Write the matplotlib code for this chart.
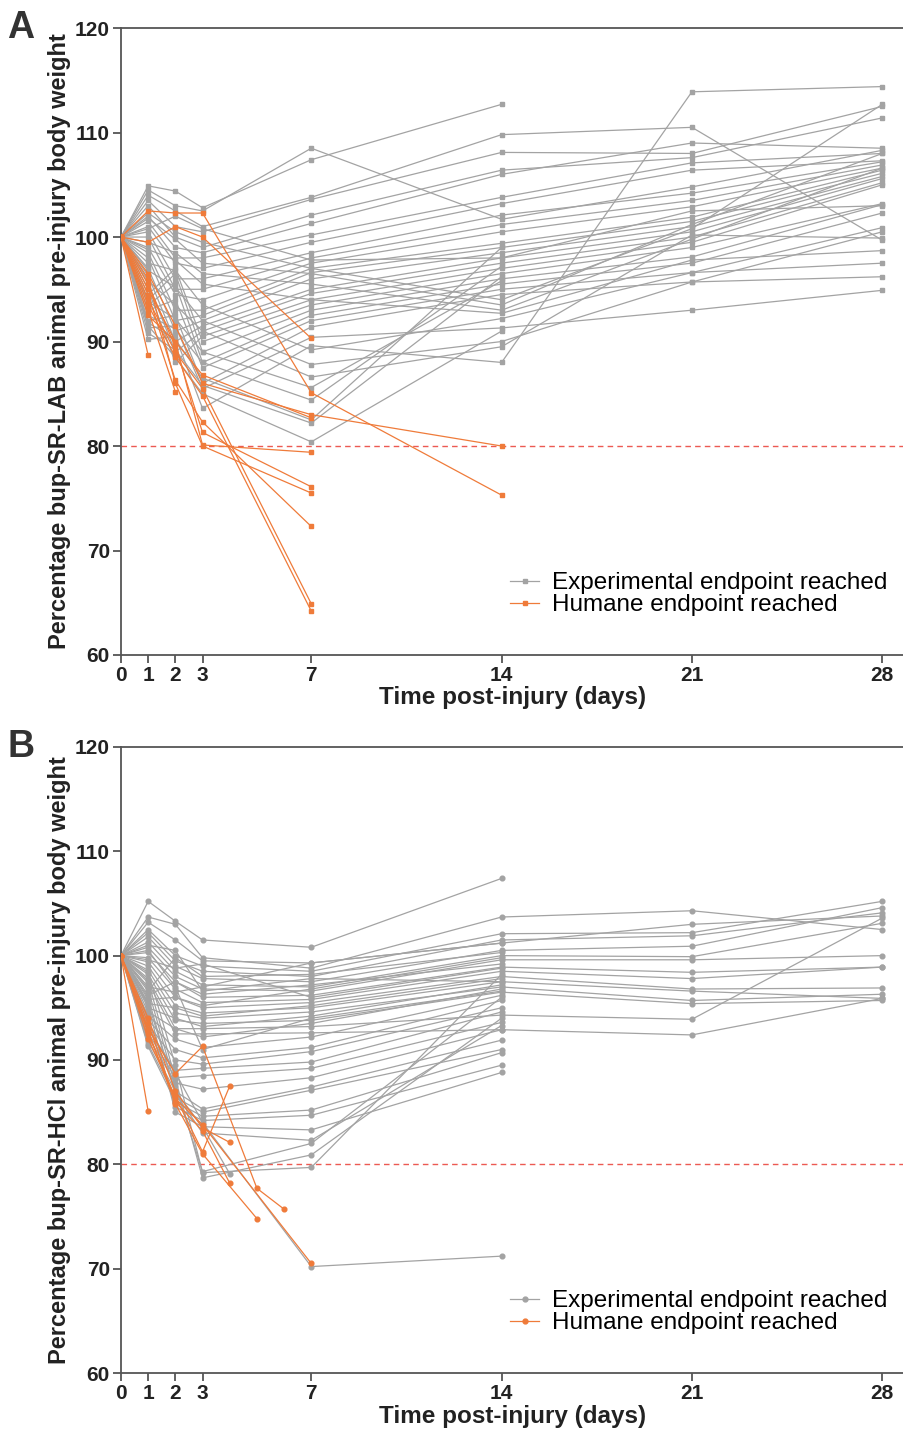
import numpy as np
import matplotlib.pyplot as plt
from matplotlib.lines import Line2D

nan = np.nan
plt.rcParams['font.family'] = ['Liberation Sans', 'DejaVu Sans']

days = [0, 1, 2, 3, 7, 14, 21, 28]
xticks = [0, 1, 2, 3, 7, 14, 21, 28]

# panel A (bup-SR-LAB): values at days 0,1,2,3,7,14,21,28
lab_exp = [
    [100, 104.9, 104.4, 102.8, 107.4, 112.7, nan, nan],
    [100, 104.5, 103.0, 102.5, 108.5, 101.7, 104.8, 108.3],
    [100, 104.0, 102.5, 101.0, 103.8, 109.8, 110.5, 99.7],
    [100, 103.5, 101.0, 100.5, 103.6, 108.1, 108.0, 112.5],
    [100, 103.0, 100.0, 99.0, 102.1, 106.4, 107.6, 111.4],
    [100, 102.0, 99.0, 98.5, 101.3, 106.0, 109.0, 108.5],
    [100, 101.5, 98.0, 98.0, 100.2, 103.8, 107.1, 108.0],
    [100, 101.0, 97.5, 97.0, 99.5, 103.2, 106.4, 107.3],
    [100, 100.5, 96.0, 96.0, 98.5, 102.1, 104.2, 107.2],
    [100, 100.0, 95.0, 95.0, 98.0, 101.2, 103.5, 106.9],
    [100, 99.0, 94.5, 94.0, 97.5, 100.5, 102.9, 106.6],
    [100, 98.5, 93.0, 93.0, 97.0, 99.4, 101.9, 106.4],
    [100, 98.0, 92.0, 92.5, 96.6, 99.0, 101.5, 106.1],
    [100, 97.0, 91.0, 92.0, 96.0, 98.5, 101.0, 105.8],
    [100, 96.3, 90.0, 91.5, 95.0, 98.0, 100.5, 105.6],
    [100, 95.5, 89.0, 91.0, 94.6, 97.5, 100.0, 105.2],
    [100, 95.0, 88.0, 90.5, 94.0, 97.0, 99.5, 105.0],
    [100, 94.5, 97.0, 90.0, 93.5, 96.5, 99.0, 103.2],
    [100, 94.0, 96.5, 89.0, 93.0, 96.0, 98.1, 103.1],
    [100, 93.5, 95.5, 88.0, 92.5, 95.5, 97.5, 102.3],
    [100, 93.0, 94.0, 87.5, 92.0, 95.0, 96.6, 100.9],
    [100, 92.0, 92.5, 86.0, 91.4, 94.5, 95.7, 100.5],
    [100, 91.3, 91.5, 85.5, 90.4, 91.3, 93.0, 94.9],
    [100, 90.2, 90.5, 83.6, 89.6, 88.0, 113.9, 114.4],
    [100, 102.3, 100.5, 99.5, 97.0, 94.0, 100.8, 112.7],
    [100, 101.8, 99.8, 97.5, 96.5, 93.5, 101.2, 108.0],
    [100, 99.5, 98.5, 96.5, 95.5, 93.0, 99.8, 106.6],
    [100, 98.8, 97.8, 95.5, 94.0, 92.7, 97.8, 98.7],
    [100, 97.5, 96.8, 93.5, 89.2, 92.2, 96.6, 97.5],
    [100, 96.8, 95.2, 92.0, 87.8, 90.0, 95.7, 96.2],
    [100, 95.8, 93.5, 91.0, 86.6, 89.5, 100.2, 99.9],
    [100, 100.8, 102.0, 100.8, 97.8, 98.0, 102.5, 103.0],
    [100, 93.8, 92.2, 89.0, 85.6, 95.8, nan, nan],
    [100, 92.5, 91.2, 88.0, 84.4, 97.2, nan, nan],
    [100, 91.8, 90.2, 86.5, 82.5, 99.0, nan, nan],
    [100, 90.8, 89.2, 85.8, 82.2, 96.2, nan, nan],
    [100, 91.5, 88.5, 85.0, 80.4, 91.0, nan, nan],
]
lab_hum = [
    [100, 88.7, nan, nan, nan, nan],
    [100, 93.0, 85.2, nan, nan, nan],
    [100, 102.5, 102.3, 102.3, 85.1, 75.3],
    [100, 99.5, 101.0, 100.0, 90.3, nan],
    [100, 96.5, 91.5, 86.0, 83.0, 80.0],
    [100, 95.0, 90.0, 86.8, 82.7, nan],
    [100, 94.0, 89.0, 85.5, 64.9, nan],
    [100, 93.5, 88.5, 84.8, 64.2, nan],
    [100, 94.5, 86.3, 82.3, 72.3, nan],
    [100, 95.5, 89.5, 81.3, 76.1, nan],
    [100, 96.0, 86.0, 80.0, 75.5, nan],
    [100, 92.5, 90.0, 80.1, 79.4, nan],
]
lab_hum_days = [0, 1, 2, 3, 7, 14]

# panel B (bup-SR-HCl)
hcl_exp = [
    [100, 105.2, 103.3, 101.5, 100.8, 107.4, nan, nan],
    [100, 103.7, 103.0, 99.8, 98.8, 103.7, 104.3, 102.5],
    [100, 103.2, 101.5, 99.5, 99.3, 101.2, 103.0, 103.8],
    [100, 102.5, 100.0, 99.0, 98.5, 102.1, 102.2, 105.2],
    [100, 102.2, 99.5, 98.5, 98.0, 101.5, 101.9, 104.1],
    [100, 101.8, 99.0, 97.8, 97.5, 100.5, 100.9, 104.6],
    [100, 101.3, 98.5, 97.2, 97.0, 100.0, 99.9, 103.1],
    [100, 100.8, 98.0, 96.8, 96.6, 99.6, 99.6, 100.0],
    [100, 100.3, 97.5, 96.0, 96.2, 98.9, 98.4, 98.9],
    [100, 99.8, 96.8, 95.5, 95.8, 98.5, 97.8, 98.9],
    [100, 99.4, 96.0, 95.0, 95.5, 98.0, 96.8, 96.9],
    [100, 99.0, 95.2, 94.5, 95.0, 97.5, 96.6, 95.9],
    [100, 98.6, 94.5, 94.0, 94.6, 97.0, 95.7, 96.3],
    [100, 98.2, 93.8, 93.5, 93.8, 96.5, 95.4, 95.7],
    [100, 97.8, 93.0, 93.0, 93.2, 94.3, 93.9, 103.6],
    [100, 97.4, 92.5, 92.5, 92.6, 92.9, 92.4, 95.9],
    [100, 97.0, 96.5, 97.0, 99.3, 101.2, nan, nan],
    [100, 96.6, 99.8, 98.0, 98.2, 100.3, nan, nan],
    [100, 96.2, 97.5, 96.3, 97.2, 99.2, nan, nan],
    [100, 95.8, 96.0, 95.2, 96.8, 99.8, nan, nan],
    [100, 95.4, 95.0, 94.2, 95.2, 97.8, nan, nan],
    [100, 95.0, 94.0, 93.2, 94.2, 97.2, nan, nan],
    [100, 94.6, 93.0, 92.2, 93.5, 96.8, nan, nan],
    [100, 94.2, 92.0, 91.2, 92.2, 96.2, nan, nan],
    [100, 93.8, 91.0, 90.2, 91.2, 95.7, nan, nan],
    [100, 93.4, 90.0, 89.6, 90.8, 95.0, nan, nan],
    [100, 93.0, 89.0, 89.2, 89.8, 94.6, nan, nan],
    [100, 92.6, 88.3, 88.5, 89.2, 93.6, nan, nan],
    [100, 92.2, 87.8, 87.2, 88.3, 92.9, nan, nan],
    [100, 91.8, 87.0, 85.3, 87.4, 91.9, nan, nan],
    [100, 91.5, 86.4, 85.0, 87.1, 91.0, nan, nan],
    [100, 91.3, 86.0, 84.6, 85.2, 90.7, nan, nan],
    [100, 94.0, 85.5, 84.2, 84.7, 89.5, nan, nan],
    [100, 95.2, 85.0, 83.6, 83.3, 88.8, nan, nan],
    [100, 96.0, 86.8, 83.0, 82.3, 93.3, nan, nan],
    [100, 96.8, 87.5, 79.3, 82.0, 96.0, nan, nan],
    [100, 97.6, 88.2, 78.7, 80.9, 94.0, nan, nan],
    [100, 98.4, 89.5, 79.2, 79.7, 98.2, nan, nan],
    [100, 93.0, 88.8, 84.0, 70.2, 71.2, nan, nan],
    [100, 100.5, 97.0, 91.0, 94.0, 96.6, nan, nan],
    [100, 99.6, 98.8, 99.2, 96.0, 98.8, nan, nan],
    [100, 101.0, 100.5, 96.6, 97.8, 97.5, nan, nan],
]
hcl_exp_short_days = [0, 1, 2, 3, 4]
hcl_exp_short = [100, 95.5, 87.0, 83.6, 79.1]

hcl_hum_days = [
    [0, 1],
    [0, 1, 2, 3, 5, 6],
    [0, 1, 2, 3, 4],
    [0, 1, 2, 3, 4],
    [0, 1, 2, 3, 4],
    [0, 1, 2, 3, 5],
    [0, 1, 2, 3, 7],
]
hcl_hum = [
    [100, 85.1],
    [100, 93.0, 88.7, 91.3, 77.7, 75.7],
    [100, 92.0, 86.5, 81.2, 87.5],
    [100, 94.0, 87.0, 83.5, 82.1],
    [100, 93.5, 86.0, 83.2, 78.2],
    [100, 92.8, 85.8, 81.0, 74.8],
    [100, 92.5, 86.3, 83.8, 70.5],
]

GRAY = '#a3a3a3'
ORANGE = '#ef7b3a'
AXC = '#555555'


def draw(ax, x, y, color, marker, ms):
    x = np.array(x, dtype=float)
    y = np.array(y, dtype=float)
    ok = ~np.isnan(y)
    ax.plot(x[ok], y[ok], color=color, lw=0.9, marker=marker, ms=ms,
            mec=color, mfc=color, zorder=2 if color == GRAY else 3)


def style(ax, ylabel, letter, marker):
    ax.axhline(80, color='#ec5a52', ls=(0, (4, 3)), lw=1.0, zorder=1)
    ax.set_xlim(0, 28.8)
    ax.set_ylim(60, 120)
    ax.set_xticks(xticks)
    ax.set_yticks(range(60, 121, 10))
    for s in ['left', 'bottom', 'top']:
        ax.spines[s].set_color(AXC)
        ax.spines[s].set_linewidth(1.3)
    ax.spines['right'].set_visible(False)
    ax.tick_params(colors=AXC, width=1.3, length=6, labelsize=15,
                   labelcolor='#222222', pad=2)
    for t in ax.get_xticklabels() + ax.get_yticklabels():
        t.set_fontweight('bold')
    ax.set_xlabel('Time post-injury (days)', fontsize=17.5, fontweight='bold',
                  color='#222222', labelpad=1)
    ax.set_ylabel(ylabel, fontsize=17, fontweight='bold', color='#222222',
                  labelpad=3)
    ax.text(-0.145, 1.0, letter, transform=ax.transAxes, fontsize=27,
            fontweight='bold', color='#333333', va='center', ha='left')
    handles = [
        Line2D([], [], color=GRAY, lw=0.9, marker=marker, ms=3.5),
        Line2D([], [], color=ORANGE, lw=0.9, marker=marker, ms=3.5),
    ]
    ax.legend(handles, ['Experimental endpoint reached', 'Humane endpoint reached'],
              loc='lower right', bbox_to_anchor=(1.0, 0.035), frameon=False,
              fontsize=17.5, handlelength=1.2, handletextpad=0.5, labelspacing=0.0,
              borderpad=0.2)


fig = plt.figure(figsize=(9.04, 14.32), dpi=100)
axA = fig.add_axes([0.1338, 0.5426, 0.8662, 0.4378])
axB = fig.add_axes([0.1338, 0.0412, 0.8662, 0.4372])

for row in lab_exp:
    draw(axA, days, row, GRAY, 's', 3.2)
for row in lab_hum:
    draw(axA, lab_hum_days, row, ORANGE, 's', 3.2)
style(axA, 'Percentage bup-SR-LAB animal pre-injury body weight', 'A', 's')

for row in hcl_exp:
    draw(axB, days, row, GRAY, 'o', 3.4)
draw(axB, hcl_exp_short_days, hcl_exp_short, GRAY, 'o', 3.4)
for d, row in zip(hcl_hum_days, hcl_hum):
    draw(axB, d, row, ORANGE, 'o', 3.4)
style(axB, 'Percentage bup-SR-HCl animal pre-injury body weight', 'B', 'o')

fig.savefig('out.png', dpi=100)
